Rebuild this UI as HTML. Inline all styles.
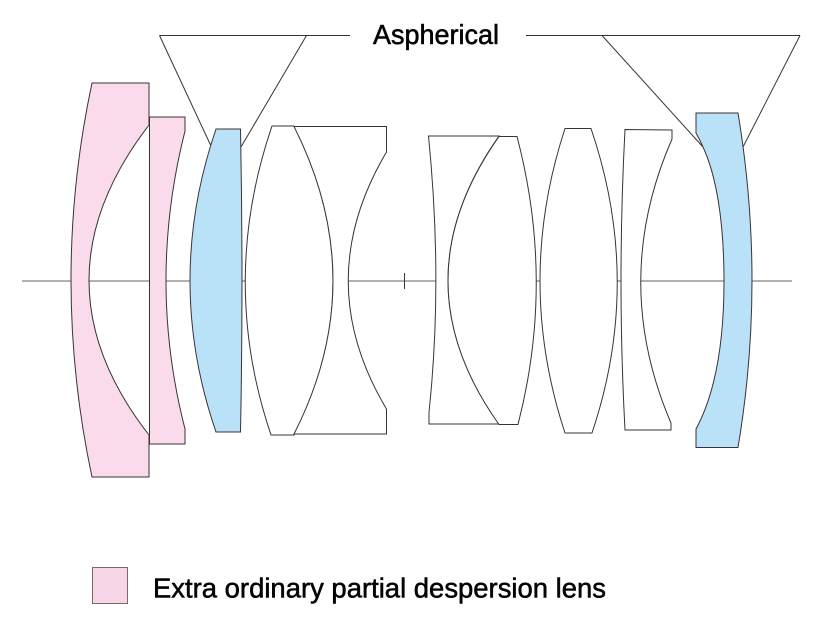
<!DOCTYPE html>
<html><head><meta charset="utf-8"><style>
html,body{margin:0;padding:0;background:#fff;width:816px;height:618px;overflow:hidden}
svg{display:block}
text{font-family:"Liberation Sans",sans-serif;fill:#050505;stroke:#050505;stroke-width:.55}
</style></head><body>
<svg width="816" height="618" viewBox="0 0 816 618" xmlns="http://www.w3.org/2000/svg">
<line x1="22" y1="281" x2="792" y2="281" stroke="#858083" stroke-width="1.2"/>
<line x1="404.5" y1="273" x2="404.5" y2="289" stroke="#333" stroke-width="1"/>
<g fill="none" stroke="#3a3335" stroke-width="1">
<path d="M159.5 35.5H350"/>
<path d="M159.5 35.5L211 146"/>
<path d="M306.5 35.5L241 147"/>
<path d="M526 35.5H800"/>
<path d="M602 35.5L703 147"/>
<path d="M800 35.5L743 147"/>
</g>
<g stroke="#3a3335" stroke-width="1" stroke-linejoin="miter">
<path fill="#f9dbeb" d="M92 83H149V125Q29 281 149 435V477H92Q50 280 92 83Z"/>
<path fill="#f9dbeb" d="M149.500 117H185V131Q147 281 185 429V444H149.500Z"/>
<path fill="#b9e1f8" d="M216 129H240.500Q243.500 281 240.500 432H216Q164 281 216 129Z"/>
<path fill="#fff" d="M272 126H294Q372 281 294 435H271Q219 281 272 126Z"/>
<path fill="#fff" d="M294 126.500H386.500V152Q310 281 386.500 409V434H294Q372 281 294 126.500Z"/>
<path fill="#fff" d="M428.500 136H499Q397 281 499 424H429V412Q443 281 428.500 136Z"/>
<path fill="#fff" d="M499 136.500H517Q555 281 518 424.500H499Q397 281 499 136.500Z"/>
<path fill="#fff" d="M565 128.500H591Q643 281 592 433H565Q515 281 565 128.500Z"/>
<path fill="#fff" d="M625 129.500L672 130V139Q610 281 671 423V430H625Q617 281 625 129.500Z"/>
<path fill="#b9e1f8" d="M696 113H738Q766 281 738 447.500H696V429C716 392 724 340 724 281C724 220 716 175 703 147Q700 140 696 133Z"/>
</g>
<rect x="92.500" y="567.500" width="35" height="36" fill="#f6d5e6" stroke="#7a6a70" stroke-width="1"/>
<text x="373" y="44" font-size="28" textLength="126" lengthAdjust="spacingAndGlyphs">Aspherical</text>
<text x="153" y="597.500" font-size="28" textLength="453" lengthAdjust="spacingAndGlyphs">Extra ordinary partial despersion lens</text>
</svg>
</body></html>
